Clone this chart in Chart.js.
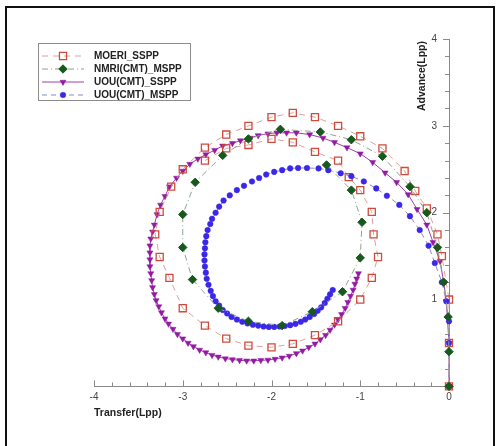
<!DOCTYPE html>
<html>
<head>
<meta charset="utf-8">
<script src="https://cdn.jsdelivr.net/npm/chart.js@4/dist/chart.umd.min.js"></script>
<style>
  html, body { margin: 0; padding: 0; background: #fff; }
  #wrap { width: 498px; height: 446px; }
</style>
</head>
<body>
<div id="wrap"><canvas id="turnChart" width="498" height="446"></canvas></div>
<script>
const xTicks = [-4, -3, -2, -1, 0];
const yTicks = [1, 2, 3, 4];

// MOERI_SSPP (open squares)
const moeriX = [0, 0, 0, -0.08, -0.13, -0.25, -0.38, -0.50, -0.75, -1.00, -1.25, -1.51, -1.76,
  -2.00, -2.26, -2.51, -2.75, -3.00, -3.13, -3.26, -3.31, -3.26, -3.15, -3.00, -2.75, -2.51, -2.26,
  -2.00, -1.76, -1.51, -1.25, -1.00, -0.87, -0.80, -0.85, -0.87, -1.00, -1.13, -1.25, -1.51, -1.76,
  -2.00, -2.26, -2.51, -2.75];
const moeriY = [0, 0.50, 1.00, 1.50, 1.75, 2.05, 2.25, 2.48, 2.74, 2.88, 3.00, 3.10, 3.15,
  3.10, 3.00, 2.90, 2.75, 2.50, 2.30, 2.01, 1.75, 1.49, 1.25, 0.90, 0.70, 0.55, 0.47,
  0.45, 0.49, 0.59, 0.75, 1.00, 1.25, 1.49, 1.75, 2.01, 2.26, 2.41, 2.60, 2.70, 2.81,
  2.85, 2.78, 2.74, 2.60];

// NMRI(CMT)_MSPP (diamonds)
const nmriX = [0, 0, -0.01, -0.06, -0.13, -0.25, -0.44, -0.75, -1.10, -1.45, -1.90, -2.26, -2.55,
  -2.86, -3.00, -3.00, -2.89, -2.60, -2.26, -1.88, -1.54, -1.20, -1.00, -0.98, -1.10, -1.38];
const nmriY = [0, 0.40, 0.80, 1.20, 1.60, 2.00, 2.30, 2.65, 2.84, 2.93, 2.96, 2.85, 2.66,
  2.35, 1.98, 1.60, 1.23, 0.90, 0.75, 0.70, 0.86, 1.09, 1.48, 1.89, 2.26, 2.55];

// UOU(CMT)_SSPP (down triangles)
const uouSsppX = [0, 0, -0.03, -0.06, -0.10, -0.18, -0.25, -0.36, -0.46, -0.59, -0.72, -0.86, -1.00,
  -1.15, -1.29, -1.42, -1.57, -1.72, -1.83, -1.94, -2.04, -2.15, -2.24, -2.35, -2.44, -2.55, -2.64,
  -2.74, -2.83, -2.92, -3.00, -3.07, -3.15, -3.20, -3.25, -3.29, -3.32,
  -3.34, -3.36, -3.37, -3.37, -3.37, -3.37, -3.36, -3.35, -3.34, -3.32, -3.30, -3.27, -3.24, -3.20,
  -3.16, -3.11, -3.06, -3.00, -2.94, -2.88, -2.81, -2.74, -2.67, -2.60, -2.52, -2.44, -2.36, -2.28,
  -2.20, -2.12, -2.04, -1.96, -1.88, -1.80, -1.72, -1.65, -1.58, -1.51, -1.45, -1.39, -1.34, -1.29,
  -1.25, -1.21, -1.17, -1.14, -1.11, -1.08, -1.06, -1.04, -1.02];
const uouSsppY = [0, 0.50, 0.98, 1.20, 1.44, 1.66, 1.86, 2.04, 2.21, 2.35, 2.46, 2.58, 2.68,
  2.75, 2.81, 2.86, 2.90, 2.92, 2.92, 2.92, 2.91, 2.89, 2.86, 2.83, 2.80, 2.77, 2.72,
  2.67, 2.62, 2.56, 2.48, 2.40, 2.30, 2.19, 2.09, 1.98, 1.86,
  1.78, 1.70, 1.62, 1.54, 1.46, 1.38, 1.30, 1.22, 1.14, 1.06, 0.99, 0.92, 0.85, 0.78,
  0.72, 0.66, 0.60, 0.55, 0.50, 0.46, 0.42, 0.39, 0.36, 0.34, 0.32, 0.31, 0.30, 0.295,
  0.295, 0.30, 0.305, 0.315, 0.33, 0.35, 0.38, 0.41, 0.45, 0.49, 0.54, 0.59, 0.65, 0.71,
  0.77, 0.83, 0.90, 0.97, 1.04, 1.11, 1.18, 1.24, 1.30];

// UOU(CMT)_MSPP (circles)
const uouMsppX = [0, 0, 0, -0.03, -0.08, -0.16, -0.23, -0.33, -0.44, -0.56, -0.70, -0.82, -0.96,
  -1.10, -1.22, -1.36, -1.47, -1.60, -1.70, -1.79, -1.88, -1.97, -2.06, -2.14, -2.22, -2.31, -2.39,
  -2.47, -2.54, -2.59, -2.63, -2.67, -2.69, -2.72, -2.735, -2.745, -2.75, -2.755, -2.755, -2.75, -2.74,
  -2.73, -2.71, -2.685, -2.66, -2.63, -2.59, -2.55, -2.50, -2.45, -2.39, -2.33, -2.27, -2.21, -2.15,
  -2.09, -2.03, -1.97, -1.91, -1.85, -1.79, -1.73, -1.67, -1.62, -1.57, -1.52, -1.48, -1.44, -1.40,
  -1.37, -1.34, -1.31];
const uouMsppY = [0, 0.50, 0.75, 0.98, 1.20, 1.42, 1.62, 1.80, 1.96, 2.09, 2.195, 2.28, 2.36,
  2.42, 2.455, 2.49, 2.51, 2.515, 2.515, 2.51, 2.49, 2.47, 2.44, 2.40, 2.36, 2.31, 2.26,
  2.20, 2.14, 2.07, 2.00, 1.93, 1.87, 1.80, 1.73, 1.66, 1.59, 1.52, 1.45, 1.38, 1.31,
  1.24, 1.17, 1.10, 1.04, 0.98, 0.93, 0.88, 0.84, 0.80, 0.77, 0.745, 0.725, 0.71, 0.70,
  0.69, 0.685, 0.685, 0.69, 0.695, 0.705, 0.72, 0.745, 0.77, 0.80, 0.835, 0.87, 0.91, 0.96,
  1.01, 1.06, 1.11];

const FONT = "'Liberation Sans', Arial, sans-serif";
const toPoints = (xs, ys) => xs.map((x, i) => ({ x, y: ys[i] }));

// outer black frame
const frame = {
  id: 'frame',
  beforeDraw(chart) {
    const ctx = chart.ctx;
    ctx.save();
    ctx.fillStyle = '#fff';
    ctx.fillRect(0, 0, chart.width, chart.height);
    ctx.fillStyle = '#111';
    ctx.fillRect(5, 6, 2, 440);
    ctx.fillRect(5, 6, 490, 2);
    ctx.fillRect(493, 6, 2, 440);
    ctx.restore();
  }
};

// inward tick marks (major + minor)
const tickMarks = {
  id: 'tickMarks',
  beforeDatasetsDraw(chart) {
    const { ctx, chartArea, scales: { x, y } } = chart;
    ctx.save();
    ctx.strokeStyle = '#8a8a8a';
    ctx.lineWidth = 1;
    ctx.beginPath();
    for (let i = 0; i <= 20; i++) {
      const len = i % 5 === 0 ? 6 : 4;
      const px = Math.round(x.getPixelForValue(-4 + i * 0.2)) + 0.5;
      ctx.moveTo(px, chartArea.bottom);
      ctx.lineTo(px, chartArea.bottom - len);
      const py = Math.round(y.getPixelForValue(i * 0.2)) + 0.5;
      ctx.moveTo(chartArea.right, py);
      ctx.lineTo(chartArea.right - len, py);
    }
    ctx.stroke();
    ctx.restore();
  }
};

// y title + boxed legend
const extras = {
  id: 'extras',
  afterDraw(chart) {
    const { ctx, chartArea } = chart;
    ctx.save();
    ctx.fillStyle = '#222';
    ctx.font = 'bold 10.5px ' + FONT;
    ctx.translate(chartArea.right - 27, chartArea.top + 2);
    ctx.rotate(-Math.PI / 2);
    ctx.textAlign = 'right';
    ctx.textBaseline = 'middle';
    ctx.fillText('Advance(Lpp)', 0, 0);
    ctx.restore();

    ctx.save();
    ctx.strokeStyle = '#8c8c8c';
    ctx.lineWidth = 1;
    ctx.strokeRect(38.5, 43.5, 152, 57);
    const drawPoint = Chart.helpers && Chart.helpers.drawPoint;
    chart.data.datasets.forEach((ds, i) => {
      const ry = 56 + i * 13;
      ctx.beginPath();
      ctx.setLineDash(ds.borderDash || []);
      ctx.strokeStyle = ds.borderColor;
      ctx.lineWidth = 1;
      ctx.moveTo(42, ry);
      ctx.lineTo(84, ry);
      ctx.stroke();
      ctx.setLineDash([]);
      ctx.fillStyle = ds.pointBackgroundColor;
      ctx.strokeStyle = ds.pointBorderColor;
      ctx.lineWidth = ds.pointBorderWidth;
      if (drawPoint) {
        drawPoint(ctx, { pointStyle: ds.pointStyle, radius: ds.pointRadius,
          rotation: ds.pointRotation || 0, borderWidth: ds.pointBorderWidth }, 63, ry);
      }
      ctx.fillStyle = '#222';
      ctx.font = 'bold 10px ' + FONT;
      ctx.textAlign = 'left';
      ctx.textBaseline = 'middle';
      ctx.fillText(ds.label, 94, ry);
    });
    ctx.restore();
  }
};

new Chart(document.getElementById('turnChart'), {
  type: 'scatter',
  data: {
    datasets: [
      {
        label: 'MOERI_SSPP',
        data: toPoints(moeriX, moeriY),
        showLine: true, clip: false, order: 2,
        borderColor: '#d9a29c', borderWidth: 1, borderDash: [6, 5],
        pointStyle: 'rect', pointRadius: 5, pointBorderWidth: 1.3,
        pointBorderColor: '#cf4b3e', pointBackgroundColor: 'rgba(255,255,255,0)'
      },
      {
        label: 'NMRI(CMT)_MSPP',
        data: toPoints(nmriX, nmriY),
        showLine: true, clip: false, order: 0,
        borderColor: '#8fa58f', borderWidth: 1, borderDash: [6, 3, 1, 3],
        pointStyle: 'rectRot', pointRadius: 4.2, pointBorderWidth: 1,
        pointBorderColor: '#17591c', pointBackgroundColor: '#17591c'
      },
      {
        label: 'UOU(CMT)_SSPP',
        data: toPoints(uouSsppX, uouSsppY),
        showLine: true, clip: false, order: 3,
        borderColor: '#a23cb0', borderWidth: 1,
        pointStyle: 'triangle', pointRotation: 180, pointRadius: 3.5, pointBorderWidth: 0.5,
        pointBorderColor: '#951aa3', pointBackgroundColor: '#951aa3'
      },
      {
        label: 'UOU(CMT)_MSPP',
        data: toPoints(uouMsppX, uouMsppY),
        showLine: true, clip: false, order: 1,
        borderColor: '#8c86c8', borderWidth: 1, borderDash: [5, 4],
        pointStyle: 'circle', pointRadius: 2.8, pointBorderWidth: 0.5,
        pointBorderColor: '#3a27e8', pointBackgroundColor: '#3a27e8'
      }
    ]
  },
  options: {
    responsive: false,
    animation: false,
    events: [],
    layout: { padding: { left: 94, right: 49, top: 39, bottom: 27 } },
    plugins: { legend: { display: false }, tooltip: { enabled: false } },
    scales: {
      x: {
        type: 'linear', position: 'bottom', min: -4, max: 0,
        afterBuildTicks: axis => { axis.ticks = xTicks.map(v => ({ value: v })); },
        grid: { display: false, drawTicks: false },
        border: { display: true, color: '#8a8a8a', width: 1 },
        ticks: { font: { family: FONT, size: 10 }, color: '#444', padding: 5, maxRotation: 0, autoSkip: false },
        title: { display: true, text: 'Transfer(Lpp)', align: 'start', color: '#222',
          font: { family: FONT, size: 10.5, weight: 'bold' }, padding: { top: -2, bottom: 0 } }
      },
      y: {
        type: 'linear', position: 'right', min: 0, max: 4,
        afterBuildTicks: axis => { axis.ticks = yTicks.map(v => ({ value: v })); },
        grid: { display: false, drawTicks: false },
        border: { display: true, color: '#8a8a8a', width: 1 },
        ticks: { mirror: true, padding: -12, font: { family: FONT, size: 10 }, color: '#444' }
      }
    }
  },
  plugins: [frame, tickMarks, extras]
});
</script>
</body>
</html>
